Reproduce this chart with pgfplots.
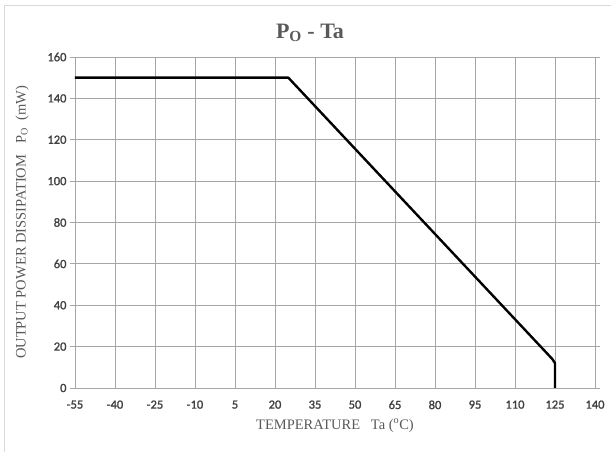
\documentclass[border=0pt]{standalone}
\usepackage{pgfplots}
\pgfplotsset{compat=1.18}
\usepackage{fontspec}
\setmainfont{Liberation Serif}
\newfontfamily\carlito{Carlito}[FakeBold=1.5]
\definecolor{txtgrey}{HTML}{595959}
\definecolor{tickgrey}{HTML}{404040}
\definecolor{gridgrey}{HTML}{A6A6A6}
\definecolor{framegrey}{HTML}{D9D9D9}

\begin{document}
\begin{tikzpicture}
\useasboundingbox (-75pt,-64pt) rectangle (536pt,388pt);
\begin{axis}[
    scale only axis,
    width=520pt, height=331pt,
    xmin=-55, xmax=140,
    ymin=0, ymax=160,
    xtick={-55,-40,...,140},
    ytick={0,20,...,160},
    grid=major,
    grid style={gridgrey, line width=0.8pt},
    axis line style={gridgrey, line width=0.8pt},
    xtick style={draw=none},
    ytick style={gridgrey, line width=0.8pt},
    tick align=outside,
    major tick length=5pt,
    /pgf/number format/assume math mode=true,
    ticklabel style={font=\carlito\fontsize{12.5}{14}\selectfont, text=tickgrey},
    xticklabel style={yshift=-4pt},
    title={\textbf{P\textsubscript{O} - Ta}},
    title style={font=\fontsize{22}{26}\selectfont, text=txtgrey, at={(0.5,1)}, xshift=-25pt, yshift=6pt},
    xlabel={TEMPERATURE\ \ \ Ta (\textsuperscript{o}C)},
    ylabel={OUTPUT POWER DISSIPATIOM\ \ \ P\textsubscript{O}\ \ (mW)},
    label style={font=\fontsize{14.5}{17}\selectfont, text=txtgrey},
    xlabel style={yshift=-3pt},
    ylabel style={yshift=12pt},
]
\addplot[black, line width=2.4pt, line join=round] coordinates {
    (-55,150) (25,150) (124,14) (125,12) (125,0)
};
\end{axis}
\draw[framegrey, line width=1pt] (-70pt,-64pt) -- (-70pt,382pt) -- (536pt,382pt);
\end{tikzpicture}
\end{document}
